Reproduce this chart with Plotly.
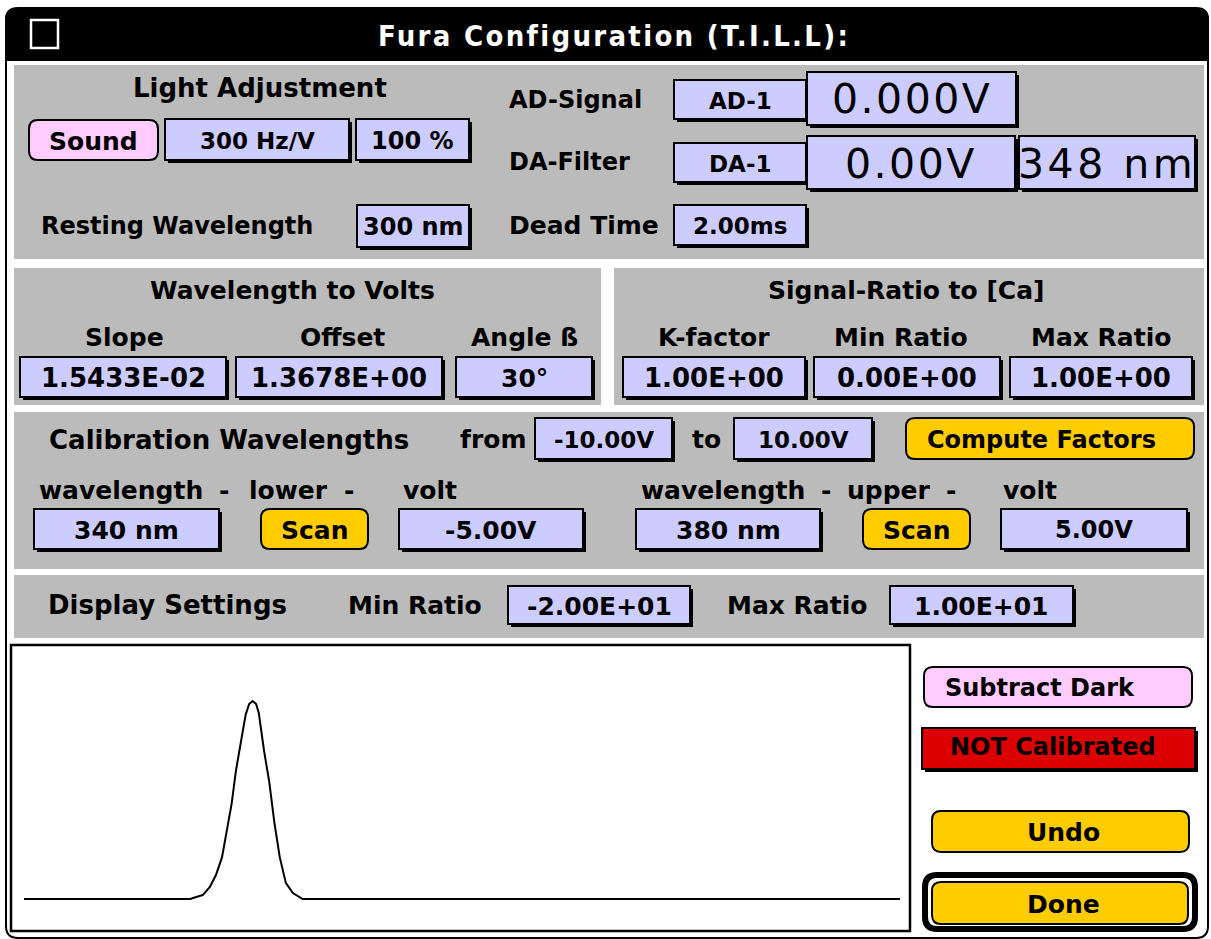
import plotly.graph_objects as go

# ---------------- data ----------------
channel = [0, 19.0, 19.3, 20.4, 21.2, 21.9, 22.6, 23.2, 23.7, 24.2, 24.8, 25.3, 25.7,
           26.1, 26.5, 26.8, 27.4, 28.0, 28.6, 29.2, 29.9, 30.7, 31.8, 100]
signal = [0, 0, 0.005, 0.02, 0.06, 0.12, 0.21, 0.35, 0.48, 0.65, 0.80, 0.93, 0.985,
          1.0, 0.985, 0.94, 0.75, 0.59, 0.38, 0.21, 0.08, 0.03, 0.0, 0]

title_text = "Fura Configuration (T.I.L.L):"

W, H = 1211, 939
LAB = "DejaVu Sans"
BIG = "DejaVu Sans"
GRAY = "#bbbbbb"
LAV = "#ccccff"
PINK = "#ffccff"
YEL = "#ffcc00"
RED = "#dd0000"

shapes = []
annots = []


def fx(p):
    return p / W


def fy(p):
    return 1 - p / H


def rect(x0, y0, x1, y1, fill, lc="black", lw=0):
    shapes.append(dict(type="rect", xref="paper", yref="paper",
                       x0=fx(x0), x1=fx(x1), y0=fy(y1), y1=fy(y0),
                       fillcolor=fill, line=dict(color=lc, width=lw), layer="below"))


def rpath(x0, y0, x1, y1, r, top=True, bottom=True):
    rt = r if top else 0
    rb = r if bottom else 0
    P = lambda x, y: f"{fx(x):.6f},{fy(y):.6f}"
    s = f"M {P(x0 + rt, y0)} L {P(x1 - rt, y0)} "
    if rt:
        s += f"Q {P(x1, y0)} {P(x1, y0 + rt)} "
    s += f"L {P(x1, y1 - rb)} "
    if rb:
        s += f"Q {P(x1, y1)} {P(x1 - rb, y1)} "
    s += f"L {P(x0 + rb, y1)} "
    if rb:
        s += f"Q {P(x0, y1)} {P(x0, y1 - rb)} "
    s += f"L {P(x0, y0 + rt)} "
    if rt:
        s += f"Q {P(x0, y0)} {P(x0 + rt, y0)} "
    return s + "Z"


def rrect(x0, y0, x1, y1, r, fill, lc="black", lw=2, top=True, bottom=True):
    shapes.append(dict(type="path", xref="paper", yref="paper",
                       path=rpath(x0, y0, x1, y1, r, top, bottom),
                       fillcolor=fill, line=dict(color=lc, width=lw), layer="below"))


def text(cx, cy, s, size=25, weight="bold", family=LAB, anchor="center", color="black", spacing=0):
    if spacing:
        s = f'<span style="letter-spacing:{spacing}px">{s}</span>'
    annots.append(dict(xref="paper", yref="paper", x=fx(cx), y=fy(cy), text=s,
                       showarrow=False, xanchor=anchor, yanchor="middle",
                       font=dict(family=family, size=size, color=color, weight=weight)))


def field(x0, y0, x1, y1, s, size=24, weight="bold", family=LAB, spacing=0):
    rect(x0 + 3, y0 + 3, x1 + 3, y1 + 3, "black")
    rect(x0, y0, x1, y1, LAV, "black", 2)
    text((x0 + x1) / 2, (y0 + y1) / 2 + 1, s, size, weight, family, spacing=spacing)


def button(x0, y0, x1, y1, s, fill, size=24, anchor="center", tx=None):
    rrect(x0, y0, x1, y1, 9, fill, "black", 2)
    if anchor == "center":
        text((x0 + x1) / 2 if tx is None else tx, (y0 + y1) / 2 + 1, s, size)
    else:
        text(tx, (y0 + y1) / 2 + 1, s, size, anchor="left")


# ---------------- window frame ----------------
rrect(6, 8, 1208, 938, 12, "white", "black", 2)
rrect(5, 8, 1209, 61, 12, "black", "black", 0, top=True, bottom=False)
rect(31, 20, 58, 48, "black", "white", 2.5)
text(614, 36, title_text, size=29, weight="bold", family="DejaVu Sans Condensed",
     color="white", spacing=2.3)

# gray panels
rect(14, 65, 1204, 259, GRAY)
rect(14, 268, 601, 405, GRAY)
rect(614, 268, 1204, 405, GRAY)
rect(14, 412, 1204, 569, GRAY)
rect(14, 575, 1204, 638, GRAY)

# ---------------- top panel ----------------
text(260, 88, "Light Adjustment", 26)
button(29, 120, 158, 160, "Sound", PINK, 25)
field(165, 119, 349, 160, "300 Hz/V", 23)
field(356, 119, 469, 160, "100 %", 24)
text(177, 226, "Resting Wavelength", 24)
field(357, 205, 469, 247, "300 nm", 24)

text(507, 100, "AD-Signal", 24, anchor="left")
text(507, 162, "DA-Filter", 24, anchor="left")
text(507, 225, "Dead Time", 25, anchor="left")
field(674, 80, 806, 119, "AD-1", 23)
field(807, 72, 1016, 125, "0.000V", 41, "normal", BIG, spacing=2.5)
field(674, 143, 806, 182, "DA-1", 23)
field(807, 136, 1015, 189, "0.00V", 41, "normal", BIG, spacing=2.5)
field(1019, 136, 1195, 189, "348 nm", 41, "normal", BIG, spacing=3.5)
field(674, 205, 806, 245, "2.00ms", 23)

# ---------------- wavelength to volts ----------------
text(292, 291, "Wavelength to Volts", 25)
text(125, 337, "Slope", 25)
text(342, 337, "Offset", 25)
text(524, 337, "Angle ß", 25)
field(20, 357, 226, 397, "1.5433E-02", 26)
field(236, 357, 442, 397, "1.3678E+00", 26)
field(456, 357, 592, 397, "30°", 25)

# ---------------- signal ratio ----------------
text(906, 291, "Signal-Ratio to [Ca]", 25)
text(714, 337, "K-factor", 25)
text(901, 337, "Min Ratio", 25)
text(1101, 337, "Max Ratio", 25)
field(623, 357, 805, 397, "1.00E+00", 26)
field(814, 357, 1000, 397, "0.00E+00", 26)
field(1010, 357, 1192, 397, "1.00E+00", 26)

# ---------------- calibration ----------------
text(229, 440, "Calibration Wavelengths", 26)
text(493, 440, "from", 25)
field(535, 418, 672, 459, "-10.00V", 23)
text(706, 440, "to", 25)
field(734, 418, 872, 459, "10.00V", 23)
button(906, 418, 1194, 459, "Compute Factors", YEL, 24, tx=1041)

for cx, s in [(121, "wavelength"), (224, "-"), (288, "lower"), (349, "-"), (430, "volt"),
              (723, "wavelength"), (826, "-"), (889, "upper"), (951, "-"), (1030, "volt")]:
    text(cx, 490, s, 25)
field(34, 509, 219, 549, "340 nm", 25)
button(261, 509, 368, 549, "Scan", YEL, 25)
field(399, 509, 583, 549, "-5.00V", 25)
field(636, 509, 820, 549, "380 nm", 25)
button(863, 509, 970, 549, "Scan", YEL, 25)
field(1001, 509, 1187, 549, "5.00V", 24)

# ---------------- display settings ----------------
text(167, 605, "Display Settings", 26)
text(415, 605, "Min Ratio", 25)
field(508, 586, 690, 624, "-2.00E+01", 25)
text(797, 605, "Max Ratio", 25)
field(890, 586, 1073, 624, "1.00E+01", 25)

# ---------------- plot box ----------------
PX0, PY0, PX1, PY1 = 11, 645, 910, 931
rect(PX0, PY0, PX1, PY1, "white", "black", 2.5)

# ---------------- right side buttons ----------------
button(924, 667, 1192, 707, "Subtract Dark", PINK, 24, anchor="left", tx=943)
rect(925, 731, 1198, 772, "black")
rect(922, 728, 1195, 769, RED, "black", 2)
text(948, 747, "NOT Calibrated", 24, anchor="left")
button(932, 811, 1189, 852, "Undo", YEL, 25, tx=1063)
rrect(925, 875, 1195, 929, 12, "white", "black", 6)
button(932, 882, 1188, 924, "Done", YEL, 25, tx=1063)

# ---------------- curve (data through axes) ----------------
fig = go.Figure()
fig.add_trace(go.Scatter(x=channel, y=signal, mode="lines",
                         line=dict(color="black", width=2),
                         hoverinfo="skip", showlegend=False))

# axis calibration: channel 0 -> x px 24, channel 100 -> x px 900; signal 0 -> y px 899, 1 -> y px 701
BX0, BX1, BY0, BY1 = 24, 900, 899, 701
kx = (BX1 - BX0) / (channel[-1] - channel[0])
ky = (BY0 - BY1) / max(signal)
xr = [channel[0] + (PX0 - BX0) / kx, channel[0] + (PX1 - BX0) / kx]
yr = [(BY0 - PY1) / ky, (BY0 - PY0) / ky]

fig.update_layout(
    width=W, height=H,
    margin=dict(l=0, r=0, t=0, b=0),
    paper_bgcolor="white", plot_bgcolor="rgba(0,0,0,0)",
    xaxis=dict(domain=[fx(PX0), fx(PX1)], range=xr, visible=False, fixedrange=True),
    yaxis=dict(domain=[fy(PY1), fy(PY0)], range=yr, visible=False, fixedrange=True),
    shapes=shapes, annotations=annots, showlegend=False,
)
fig.write_html("out.html", config={"displayModeBar": False},
               post_script="document.body.style.margin='0';document.body.style.overflow='hidden';")
